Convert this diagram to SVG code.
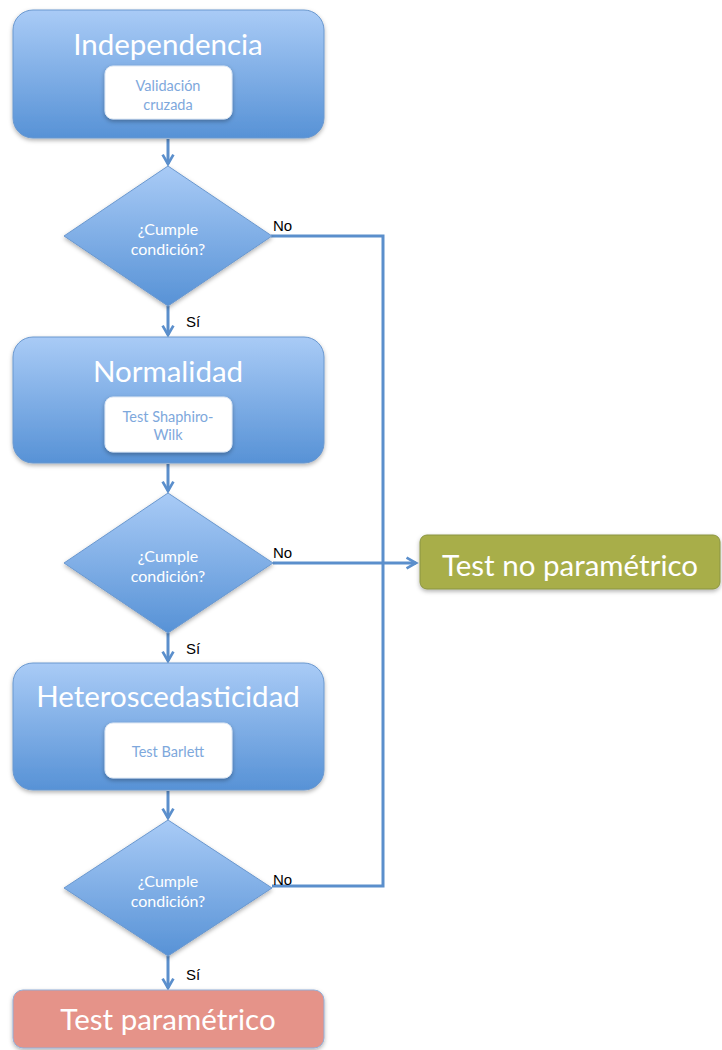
<svg xmlns="http://www.w3.org/2000/svg" width="722" height="1050" viewBox="0 0 722 1050">
<defs>
<linearGradient id="gb" x1="0" y1="0" x2="0" y2="1">
<stop offset="0" stop-color="#a9cbf6"/>
<stop offset="1" stop-color="#5792d6"/>
</linearGradient>
<filter id="sh" x="-10%" y="-10%" width="120%" height="130%">
<feDropShadow dx="0" dy="2" stdDeviation="2" flood-color="#000" flood-opacity="0.3"/>
</filter>
<marker id="ah" viewBox="0 0 10 10" refX="8" refY="5" markerWidth="4.5" markerHeight="4.5" orient="auto" markerUnits="strokeWidth">
<path d="M1,1 L8,5 L1,9" fill="none" stroke="#5b8fcc" stroke-width="2"/>
</marker>
<style>
.blue{fill:url(#gb);stroke:#6a98cf;stroke-width:1;filter:url(#sh)}
.inner{fill:#fff;stroke:#dfe8f3;stroke-width:1;filter:url(#sh)}
.title{font-family:Lato,"Open Sans",sans-serif;fill:#fff;font-size:29.5px;text-anchor:middle}
.sub{font-family:Lato,"Open Sans",sans-serif;fill:#7ea8dc;font-size:14.5px;text-anchor:middle}
.dtext{font-family:Lato,"Open Sans",sans-serif;fill:#fff;font-size:16px;text-anchor:middle}
.lbl{font-family:"Liberation Sans",Arial,sans-serif;fill:#000;font-size:15px}
.con{fill:none;stroke:#5b8fcc;stroke-width:3}
</style>
</defs>
<g id="connectors">
<line class="con" x1="168" y1="139" x2="168" y2="164" marker-end="url(#ah)"/>
<line class="con" x1="168" y1="306" x2="168" y2="335" marker-end="url(#ah)"/>
<line class="con" x1="168" y1="464" x2="168" y2="491" marker-end="url(#ah)"/>
<line class="con" x1="168" y1="633" x2="168" y2="661" marker-end="url(#ah)"/>
<line class="con" x1="168" y1="791" x2="168" y2="818" marker-end="url(#ah)"/>
<line class="con" x1="168" y1="956" x2="168" y2="988" marker-end="url(#ah)"/>
<polyline class="con" points="271,236 383,236 383,886 272,886"/>
<line class="con" x1="273" y1="563" x2="416" y2="563" marker-end="url(#ah)"/>
<text class="lbl" x="273" y="231">No</text>
<text class="lbl" x="273" y="558">No</text>
<text class="lbl" x="273" y="885">No</text>
<text class="lbl" x="186" y="327">Sí</text>
<text class="lbl" x="186" y="654">Sí</text>
<text class="lbl" x="186" y="980">Sí</text>
</g>
<g id="independencia">
<rect class="blue" x="13" y="10" width="311" height="128" rx="20"/>
<text class="title" x="168" y="55">Independencia</text>
<rect class="inner" x="105" y="66" width="127" height="53" rx="8"/>
<text class="sub" x="168" y="91">Validación</text>
<text class="sub" x="168" y="110">cruzada</text>
</g>
<g id="d1">
<polygon class="blue" points="168,166 272,236 168,306 64,236"/>
<text class="dtext" x="168" y="235">¿Cumple</text>
<text class="dtext" x="168" y="255">condición?</text>
</g>
<g id="normalidad">
<rect class="blue" x="13" y="337" width="311" height="126" rx="20"/>
<text class="title" x="168" y="382">Normalidad</text>
<rect class="inner" x="105" y="397" width="127" height="55" rx="8"/>
<text class="sub" x="168" y="422">Test Shaphiro-</text>
<text class="sub" x="168" y="440">Wilk</text>
</g>
<g id="d2">
<polygon class="blue" points="168,493 273,563 168,633 64,563"/>
<text class="dtext" x="168" y="562">¿Cumple</text>
<text class="dtext" x="168" y="582">condición?</text>
</g>
<g id="heteroscedasticidad">
<rect class="blue" x="13" y="663" width="311" height="127" rx="20"/>
<text class="title" x="168" y="707">Heteroscedasticidad</text>
<rect class="inner" x="105" y="723" width="127" height="55" rx="8"/>
<text class="sub" x="168" y="757">Test Barlett</text>
</g>
<g id="d3">
<polygon class="blue" points="168,820 272,888 168,956 64,888"/>
<text class="dtext" x="168" y="887">¿Cumple</text>
<text class="dtext" x="168" y="907">condición?</text>
</g>
<g id="noparam">
<rect x="420" y="535" width="300" height="54" rx="7" fill="#a8ae48" stroke="#8a9440" stroke-width="1" filter="url(#sh)"/>
<text class="title" x="570" y="576">Test no paramétrico</text>
</g>
<g id="param">
<rect x="13" y="990" width="311" height="58" rx="10" fill="#e59389" stroke="#93aed6" stroke-width="1" filter="url(#sh)"/>
<text class="title" x="168" y="1030">Test paramétrico</text>
</g>
</svg>
